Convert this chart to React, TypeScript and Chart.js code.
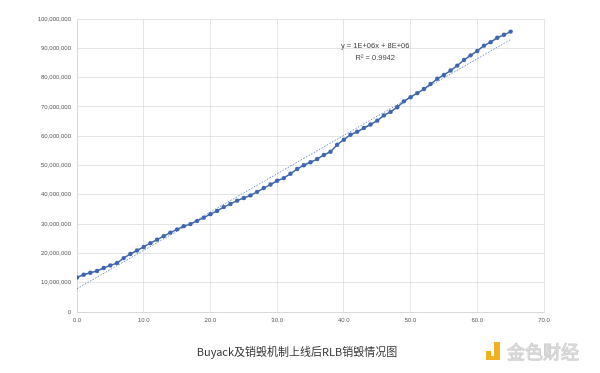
import React, { useEffect, useRef } from "react";
import { Chart, registerables } from "chart.js";

Chart.register(...registerables);

// Days (x) since launch
const xValues: number[] = Array.from({ length: 66 }, (_, i) => i);
// RLB burned (millions)
const burnedMillions: number[] = [
  11.8, 12.7, 13.4, 14.0, 15.0, 15.9, 16.7, 18.4, 19.8, 21.0,
  22.2, 23.5, 24.7, 25.9, 27.1, 28.2, 29.3, 30.0, 31.1, 32.2,
  33.4, 34.5, 35.8, 36.9, 38.0, 38.9, 39.8, 41.0, 42.3, 43.5,
  44.8, 45.7, 47.2, 48.8, 50.1, 51.1, 52.2, 53.6, 54.7, 57.1,
  58.8, 60.5, 61.5, 62.8, 64.0, 65.3, 67.1, 68.3, 69.9, 71.9,
  73.3, 74.7, 76.1, 77.8, 79.6, 80.9, 82.4, 84.1, 86.0, 87.6,
  89.1, 90.9, 92.1, 93.6, 94.6, 95.7,
];
const title = "Buyack及销毁机制上线后RLB销毁情况图";
const equationText = "y = 1E+06x + 8E+06";
const r2Text = "R² = 0.9942";
const watermark = "金色财经";

const yTickMax = 100000000;
const yTickStep = 10000000;
const xTickMax = 70;
const xTickStep = 10;

function regression(xs: number[], ys: number[]) {
  const n = xs.length;
  const mx = xs.reduce((a, b) => a + b, 0) / n;
  const my = ys.reduce((a, b) => a + b, 0) / n;
  let num = 0, den = 0;
  for (let i = 0; i < n; i++) {
    num += (xs[i] - mx) * (ys[i] - my);
    den += (xs[i] - mx) * (xs[i] - mx);
  }
  const slope = num / den;
  return { slope, intercept: my - slope * mx };
}

export default function App() {
  const ref = useRef<HTMLCanvasElement>(null);
  useEffect(() => {
    if (!ref.current) return;
    const ys = burnedMillions.map((v) => v * 1e6);
    const fit = regression(xValues, ys);
    const x0 = xValues[0];
    const x1 = xValues[xValues.length - 1];
    const pts = xValues.map((x, i) => ({ x, y: ys[i] }));
    const trend = [
      { x: x0, y: fit.intercept + fit.slope * x0 },
      { x: x1, y: fit.intercept + fit.slope * x1 },
    ];

    const overlay = {
      id: "overlay",
      afterDraw(chart: any) {
        const ctx = chart.ctx;
        const xs = chart.scales.x;
        const yS = chart.scales.y;
        ctx.save();
        // equation
        ctx.fillStyle = "#404040";
        ctx.font = "7.5px 'Liberation Sans', sans-serif";
        ctx.textAlign = "center";
        ctx.textBaseline = "middle";
        const ex = xs.getPixelForValue(44.7);
        ctx.fillText(equationText, ex, yS.getPixelForValue(90700000));
        ctx.fillText(r2Text, ex, yS.getPixelForValue(86700000));
        // title
        ctx.fillStyle = "#333333";
        ctx.font = "11px 'Noto Sans CJK SC', 'Noto Sans', sans-serif";
        ctx.fillText(title, 297, 352);
        // watermark
        ctx.fillStyle = "#f2b01e";
        ctx.fillRect(486, 351, 5, 5);
        ctx.fillRect(494, 342, 6, 18);
        ctx.fillRect(486, 356, 14, 4);
        ctx.strokeStyle = "#d0d0d0";
        ctx.lineWidth = 1;
        ctx.fillStyle = "#efefef";
        ctx.font = "18px 'Noto Sans CJK SC', sans-serif";
        ctx.textAlign = "left";
        ctx.fillText(watermark, 507, 352);
        ctx.strokeText(watermark, 507, 352);
        ctx.restore();
      },
    };

    const chart = new Chart(ref.current, {
      type: "scatter",
      data: {
        datasets: [
          {
            data: pts,
            showLine: true,
            borderColor: "#3f66b0",
            backgroundColor: "#3f66b0",
            borderWidth: 1.5,
            pointRadius: 2.2,
            pointBorderWidth: 0,
          },
          {
            data: trend,
            showLine: true,
            borderColor: "#4a72bd",
            borderWidth: 0.8,
            borderDash: [1.5, 1.5],
            pointRadius: 0,
          },
        ],
      },
      options: {
        animation: false,
        responsive: false,
        maintainAspectRatio: false,
        layout: { padding: { top: 19, right: 56, bottom: 0, left: 0 } },
        plugins: {
          legend: { display: false },
          tooltip: { enabled: false },
          title: { display: false },
        },
        scales: {
          x: {
            type: "linear",
            min: 0,
            max: xTickMax,
            afterFit: (s: any) => { s.height = 61; },
            grid: { color: "#dedede", drawTicks: false, lineWidth: 0.8 },
            border: { color: "#d9d9d9" },
            ticks: {
              stepSize: xTickStep,
              padding: 5,
              color: "#595959",
              font: { size: 6, family: "'Liberation Sans', sans-serif" },
              callback: (v: any) => Number(v).toFixed(1),
            },
          },
          y: {
            type: "linear",
            min: 0,
            max: yTickMax,
            afterFit: (s: any) => { s.width = 77; },
            grid: { color: "#dedede", drawTicks: false, lineWidth: 0.8 },
            border: { color: "#d9d9d9" },
            ticks: {
              stepSize: yTickStep,
              padding: 6,
              color: "#595959",
              font: { size: 6, family: "'Liberation Sans', sans-serif" },
              callback: (v: any) => Number(v).toLocaleString("en-US"),
            },
          },
        },
      },
      plugins: [overlay],
    } as any);
    return () => chart.destroy();
  }, []);

  return (
    <div style={{ position: "fixed", left: 0, top: 0, width: 600, height: 373, background: "#fff" }}>
      <canvas ref={ref} width={600} height={373} style={{ width: 600, height: 373 }} />
    </div>
  );
}
